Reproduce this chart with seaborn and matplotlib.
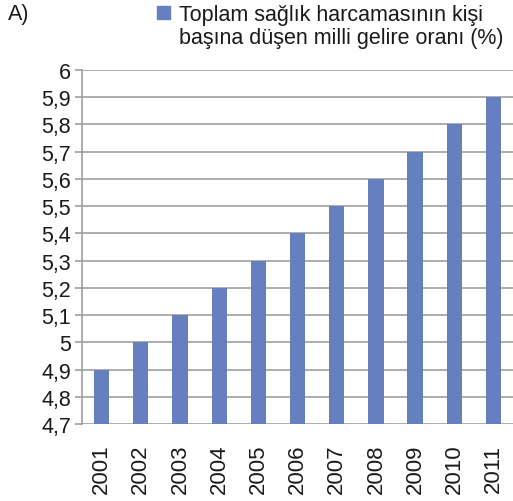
import matplotlib.pyplot as plt
import matplotlib.ticker as mticker
from matplotlib.patches import Rectangle
import numpy as np
import pandas as pd
import seaborn as sns

# data
years = ['2001', '2002', '2003', '2004', '2005', '2006',
         '2007', '2008', '2009', '2010', '2011']
values = [4.9, 5.0, 5.1, 5.2, 5.3, 5.4, 5.5, 5.6, 5.7, 5.8, 5.9]
series_name = 'Toplam sağlık harcamasının kişi\nbaşına düşen milli gelire oranı (%)'

df = pd.DataFrame({'Yil': years, 'Oran': values})

sns.set_style('white')
plt.rcParams['font.family'] = ['Liberation Sans', 'DejaVu Sans']

bar_color = '#6680bf'
grid_color = '#a0a0a0'
text_color = '#1a1a1a'

fig = plt.figure(figsize=(5.13, 5.02), dpi=100)
ax = fig.add_axes([0.160, 0.153, 0.840, 0.706])

sns.barplot(data=df, x='Yil', y='Oran', color=bar_color, width=0.39,
            saturation=1, linewidth=0, ax=ax)

ax.set_ylim(4.7, 6.0)
ax.set_xlim(-0.5, 10.5)
ax.set_yticks(np.round(np.arange(4.7, 6.01, 0.1), 1))
ax.yaxis.set_major_formatter(mticker.FuncFormatter(
    lambda v, p: ('%g' % round(v, 1)).replace('.', ',')))
ax.yaxis.grid(True, color=grid_color, linewidth=1.2)
ax.set_axisbelow(True)
ax.set_xlabel('')
ax.set_ylabel('')

for s in ['top', 'right', 'bottom']:
    ax.spines[s].set_visible(False)
ax.spines['left'].set_color(grid_color)
ax.spines['left'].set_linewidth(1.2)

# year labels vertical, tick marks between categories
ax.tick_params(axis='x', which='major', length=0, labelsize=16,
               rotation=90, pad=14, labelcolor=text_color)
ax.set_xticks(np.arange(-0.5, 11, 1), minor=True)
ax.tick_params(axis='x', which='minor', length=11, width=1.2,
               color=grid_color, direction='out')
ax.tick_params(axis='y', length=5, width=1.2, color=grid_color,
               labelsize=15.5, pad=3, labelcolor=text_color, left=True)

# legend at the top (square + two-line label)
fig.patches.append(Rectangle((157 / 513, 1 - 20 / 502), 13 / 513, 13 / 502,
                             transform=fig.transFigure, color=bar_color))
fig.text(179 / 513, 1 - 5 / 502, series_name, fontsize=15.5, va='top',
         ha='left', color=text_color, linespacing=1.15)

fig.text(8 / 513, 1 - 4 / 502, 'A)', fontsize=15.5, va='top', ha='left',
         color=text_color)

fig.savefig('out.png', dpi=100)
plt.close()
